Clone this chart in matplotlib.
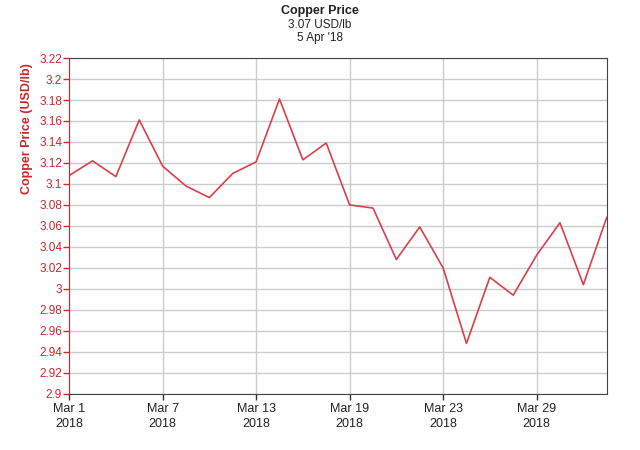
import matplotlib
matplotlib.use("Agg")
import matplotlib.pyplot as plt

plt.rcParams['font.family'] = ['Liberation Sans', 'DejaVu Sans']

# trading days, Mar 1 - Apr 5 2018
days = ['Mar 1', 'Mar 2', 'Mar 5', 'Mar 6', 'Mar 7', 'Mar 8', 'Mar 9', 'Mar 12',
        'Mar 13', 'Mar 14', 'Mar 15', 'Mar 16', 'Mar 19', 'Mar 20', 'Mar 21', 'Mar 22',
        'Mar 23', 'Mar 26', 'Mar 27', 'Mar 28', 'Mar 29', 'Apr 3', 'Apr 4', 'Apr 5']
price = [3.108, 3.122, 3.107, 3.161, 3.117, 3.098, 3.087, 3.110,
         3.121, 3.181, 3.123, 3.139, 3.080, 3.077, 3.028, 3.059,
         3.020, 2.948, 3.011, 2.994, 3.032, 3.063, 3.004, 3.068]
tick_idx = [0, 4, 8, 12, 16, 20]
tick_labels = [days[i] + "\n2018" for i in tick_idx]
y_ticks = [2.9, 2.92, 2.94, 2.96, 2.98, 3.0, 3.02, 3.04, 3.06, 3.08, 3.1,
           3.12, 3.14, 3.16, 3.18, 3.2, 3.22]

red = '#c8282e'
line_red = '#d9404a'

fig = plt.figure(figsize=(6.4, 4.5), dpi=100)
ax = fig.add_axes([0.108, 0.125, 0.840, 0.746])

x = list(range(len(price)))
ax.plot(x, price, color=line_red, linewidth=1.2)

ax.set_xlim(0, len(price) - 1)
ax.set_ylim(2.9, 3.22)
ax.set_yticks(y_ticks)
ax.set_yticklabels([f"{v:g}" for v in y_ticks])
ax.set_xticks(tick_idx)
ax.set_xticklabels(tick_labels, linespacing=1.25)

ax.grid(True, color='#cccccc', linewidth=1)
ax.set_axisbelow(True)

for s in ['top', 'right', 'bottom']:
    ax.spines[s].set_color('#444444')
ax.spines['left'].set_color(red)
ax.tick_params(axis='y', colors=red, labelsize=8.5, length=4, width=1, pad=1)
ax.tick_params(axis='x', colors='#333333', labelcolor='#222222', labelsize=9,
               length=4, width=1, pad=3)
for lab in ax.get_yticklabels():
    lab.set_color(red)

ax.set_ylabel("Copper Price (USD/lb)", color=red, fontsize=9, fontweight='bold')
ax.yaxis.set_label_coords(-0.068, 0.79)

fig.text(0.5, 0.975, "Copper Price", ha='center', va='center', fontsize=9, fontweight='bold', color='#222222')
fig.text(0.5, 0.945, "3.07 USD/lb", ha='center', va='center', fontsize=8.5, color='#222222')
fig.text(0.5, 0.915, "5 Apr '18", ha='center', va='center', fontsize=8.5, color='#222222')

fig.savefig("out.png", dpi=100)
